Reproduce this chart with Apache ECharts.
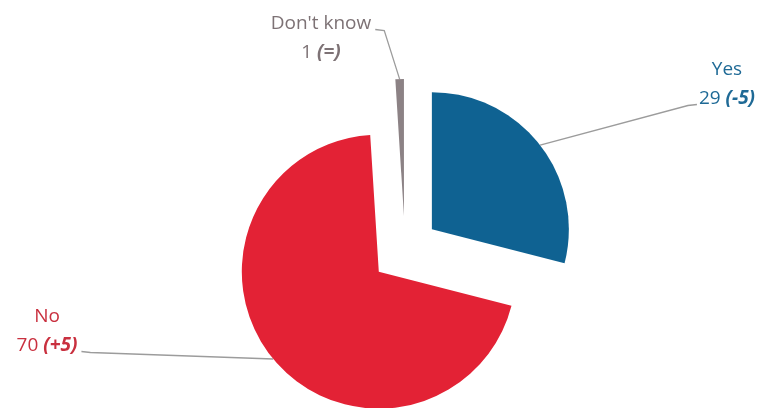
<!DOCTYPE html>
<html><head><meta charset="utf-8">
<script src="https://cdn.jsdelivr.net/npm/echarts@6/dist/echarts.min.js"></script>
<style>html,body{margin:0;padding:0;background:#fff}#c{width:762px;height:408px}</style>
</head><body><div id="c"></div>
<script>
const categories = ["Yes", "No", "Don't know"];
const values = [29, 70, 1];
const changes = ["-5", "+5", "="];
const sliceColors = ["#0f6292", "#e32235", "#8c8285"];
const textColors = ["#1f6a96", "#c9303f", "#7d7275"];
const labelPos = [[727, 84], [47, 331], [321, 38]];
const labelAnchors = [{side: 'left', row: 1}, {side: 'right', row: 1}, {side: 'right', row: 0}];

const CX = 405, CY = 250, R = 137, OFFSET = 34, LH = 29;
const total = values.reduce((a, b) => a + b, 0);
let acc = 0;
const mids = values.map(v => { const m = (acc + v / 2) / total * 360; acc += v; return m; });

const chart = echarts.init(document.getElementById('c'));
const series = categories.map((cat, k) => {
  const rad = mids[k] * Math.PI / 180;
  const center = [CX + OFFSET * Math.sin(rad), CY - OFFSET * Math.cos(rad)];
  return {
    type: 'pie',
    center: center,
    radius: R,
    startAngle: 90,
    clockwise: true,
    avoidLabelOverlap: false,
    silent: true,
    emphasis: {disabled: true},
    labelLine: {show: true, lineStyle: {color: '#9c9c9c', width: 1.3}},
    labelLayout: function (p) {
      const pos = labelPos[k];
      const w = p.labelRect.width;
      const left = pos[0] - w / 2, right = pos[0] + w / 2;
      const a = labelAnchors[k];
      const ey = pos[1] - LH / 2 + a.row * LH + 6;
      let ex, bx;
      if (a.side === 'left') { ex = left - 2; bx = ex - 9; } else { ex = right + 4; bx = ex + 9; }
      const start = (p.labelLinePoints && p.labelLinePoints[0]) ||
        [center[0] + R * Math.sin(rad), center[1] - R * Math.cos(rad)];
      return {
        x: pos[0], y: pos[1], align: 'center', verticalAlign: 'middle',
        labelLinePoints: [start, [bx, ey + 1], [ex, ey]]
      };
    },
    data: categories.map((c, i) => ({
      name: c,
      value: values[i],
      itemStyle: {color: i === k ? sliceColors[i] : 'rgba(0,0,0,0)', borderWidth: 0},
      label: i === k ? {
        show: true,
        position: 'outside',
        formatter: '{a|' + c + '}\n{a|' + values[i] + ' }{b|(' + changes[i] + ')}',
        rich: {
          a: {fontFamily: 'Open Sans', fontSize: 19, color: textColors[i], lineHeight: LH},
          b: {fontFamily: 'Open Sans', fontSize: 19, fontWeight: 'bold', fontStyle: 'italic', color: textColors[i], lineHeight: LH}
        }
      } : {show: false},
      labelLine: {show: i === k}
    }))
  };
});

chart.setOption({animation: false, series: series});
</script></body></html>
